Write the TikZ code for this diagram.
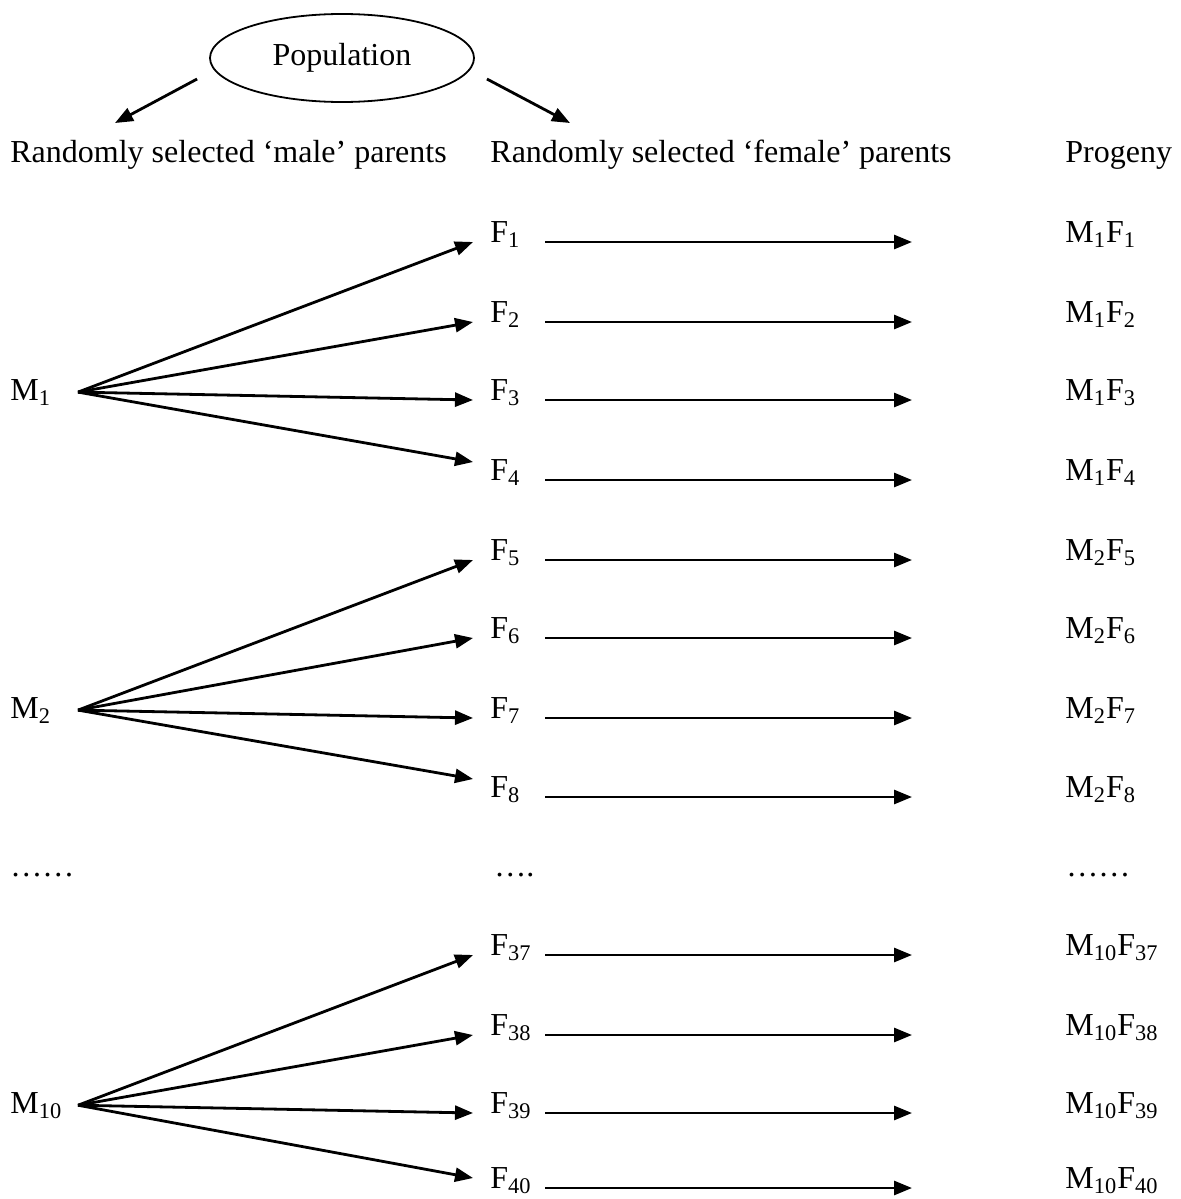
\documentclass[tikz,border=0pt]{standalone}
\usepackage{fontspec}
\setmainfont{Liberation Serif}
\usetikzlibrary{arrows.meta,shapes.geometric}
\tikzset{
  arr/.style={line width=1.4pt,-{Triangle[length=9pt,width=7pt]}},
  lbl/.style={inner sep=0pt,anchor=base west},
  fnode/.style={inner xsep=8.5pt,inner ysep=0pt,anchor=base west}
}

\begin{document}
\begin{tikzpicture}[x=0.5pt,y=-0.5pt,font=\fontsize{16}{19}\selectfont]
\fill[white] (0,0) rectangle (1181,1199);
\coordinate (fo) at (78,0); \coordinate (hs) at (545,0); \coordinate (he) at (912,0);
\coordinate (ml) at (115,123); \coordinate (fl) at (570,123);
% population and headings
\node[draw,ellipse,line width=0.9pt,minimum width=132pt,minimum height=44pt] (pop) at (342,58) {Population};
\node[lbl] (hm) at (10,162) {Randomly selected ‘male’ parents};
\node[lbl] (hf) at (490,162) {Randomly selected ‘female’ parents};
\node[lbl] (hp) at (1065,162) {Progeny};
\draw[arr] ([shift={(-12,21)}]pop.west) -- (ml);
\draw[arr] ([shift={(12,21)}]pop.east) -- (fl);
% male parents
\node[lbl] (m1) at (10,400) {M\textsubscript{1}};
\node[lbl] (m2) at (10,718) {M\textsubscript{2}};
\node[lbl] (m10) at (10,1113) {M\textsubscript{10}};
\node[lbl] (dl) at (10,876) {……}; \node[lbl] (dm) at (494,876) {….}; \node[lbl] (dr) at (1066,876) {……};
% crosses of M1
\node[fnode] (f1) at (473,242) {F\textsubscript{1}}; \node[lbl] (p1) at (1065,242) {M\textsubscript{1}F\textsubscript{1}};
\node[fnode] (f2) at (473,322) {F\textsubscript{2}}; \node[lbl] (p2) at (1065,322) {M\textsubscript{1}F\textsubscript{2}};
\node[fnode] (f3) at (473,400) {F\textsubscript{3}}; \node[lbl] (p3) at (1065,400) {M\textsubscript{1}F\textsubscript{3}};
\node[fnode] (f4) at (473,480) {F\textsubscript{4}}; \node[lbl] (p4) at (1065,480) {M\textsubscript{1}F\textsubscript{4}};
\draw[arr] (m1 -| fo) -- (f1.base west); \draw[arr] (f1.base -| hs) -- (f1.base -| he);
\draw[arr] (m1 -| fo) -- (f2.base west); \draw[arr] (f2.base -| hs) -- (f2.base -| he);
\draw[arr] (m1 -| fo) -- (f3.base west); \draw[arr] (f3.base -| hs) -- (f3.base -| he);
\draw[arr] (m1 -| fo) -- ([yshift=9pt]f4.base west); \draw[arr] (f4.base -| hs) -- (f4.base -| he);
% crosses of M2
\node[fnode] (f5) at (473,560) {F\textsubscript{5}}; \node[lbl] (p5) at (1065,560) {M\textsubscript{2}F\textsubscript{5}};
\node[fnode] (f6) at (473,638) {F\textsubscript{6}}; \node[lbl] (p6) at (1065,638) {M\textsubscript{2}F\textsubscript{6}};
\node[fnode] (f7) at (473,718) {F\textsubscript{7}}; \node[lbl] (p7) at (1065,718) {M\textsubscript{2}F\textsubscript{7}};
\node[fnode] (f8) at (473,797) {F\textsubscript{8}}; \node[lbl] (p8) at (1065,797) {M\textsubscript{2}F\textsubscript{8}};
\draw[arr] (m2 -| fo) -- (f5.base west); \draw[arr] (f5.base -| hs) -- (f5.base -| he);
\draw[arr] (m2 -| fo) -- (f6.base west); \draw[arr] (f6.base -| hs) -- (f6.base -| he);
\draw[arr] (m2 -| fo) -- (f7.base west); \draw[arr] (f7.base -| hs) -- (f7.base -| he);
\draw[arr] (m2 -| fo) -- ([yshift=9pt]f8.base west); \draw[arr] (f8.base -| hs) -- (f8.base -| he);
% crosses of M10
\node[fnode] (f37) at (473,955) {F\textsubscript{37}}; \node[lbl] (p37) at (1065,955) {M\textsubscript{10}F\textsubscript{37}};
\node[fnode] (f38) at (473,1035) {F\textsubscript{38}}; \node[lbl] (p38) at (1065,1035) {M\textsubscript{10}F\textsubscript{38}};
\node[fnode] (f39) at (473,1113) {F\textsubscript{39}}; \node[lbl] (p39) at (1065,1113) {M\textsubscript{10}F\textsubscript{39}};
\node[fnode] (f40) at (473,1188) {F\textsubscript{40}}; \node[lbl] (p40) at (1065,1188) {M\textsubscript{10}F\textsubscript{40}};
\draw[arr] (m10 -| fo) -- (f37.base west); \draw[arr] (f37.base -| hs) -- (f37.base -| he);
\draw[arr] (m10 -| fo) -- (f38.base west); \draw[arr] (f38.base -| hs) -- (f38.base -| he);
\draw[arr] (m10 -| fo) -- (f39.base west); \draw[arr] (f39.base -| hs) -- (f39.base -| he);
\draw[arr] (m10 -| fo) -- ([yshift=5pt]f40.base west); \draw[arr] (f40.base -| hs) -- (f40.base -| he);
\end{tikzpicture}
\end{document}
